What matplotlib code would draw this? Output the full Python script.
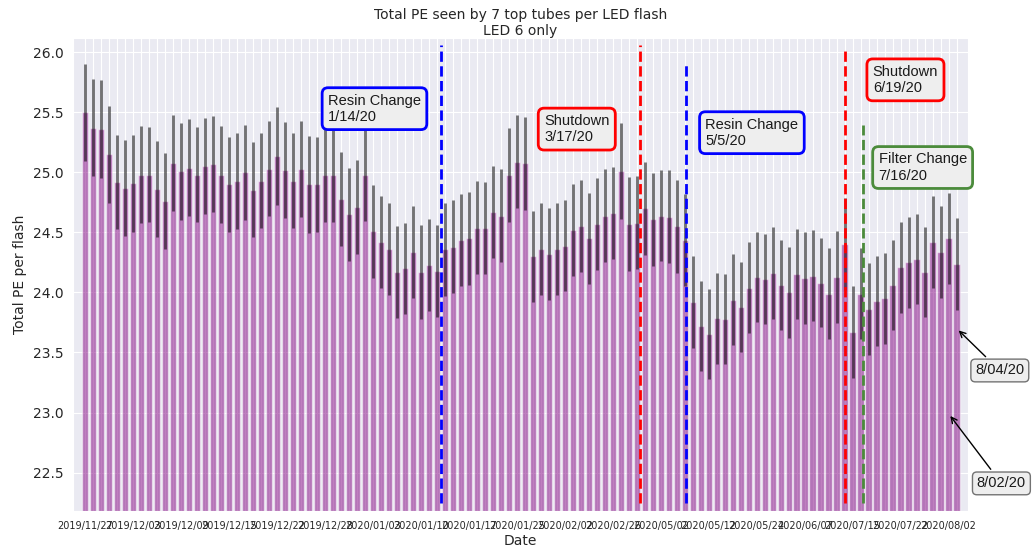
import numpy as np
import matplotlib.pyplot as plt
import seaborn as sns

# mean total PE per LED flash, one bar per run day
pe = [25.50, 25.37, 25.36, 25.15, 24.92, 24.87, 24.91, 24.98, 24.98, 24.86,
      24.76, 25.08, 25.01, 25.04, 24.98, 25.05, 25.07, 24.98, 24.90, 24.93,
      25.00, 24.855, 24.93, 25.03, 25.14, 25.02, 24.93, 25.03, 24.90, 24.90,
      24.98, 24.98, 24.775, 24.65, 24.71, 24.98, 24.51, 24.42, 24.36, 24.17,
      24.20, 24.34, 24.17, 24.23, 24.18, 24.36, 24.38, 24.44, 24.45, 24.54,
      24.54, 24.67, 24.64, 24.98, 25.09, 25.075, 24.30, 24.36, 24.32, 24.36,
      24.39, 24.52, 24.555, 24.45, 24.57, 24.64, 24.66, 25.01, 24.57, 24.58,
      24.70, 24.61, 24.64, 24.63, 24.55, 24.44, 23.92, 23.72, 23.655, 23.785,
      23.78, 23.94, 23.875, 24.04, 24.125, 24.11, 24.16, 24.06, 24.00, 24.15,
      24.12, 24.14, 24.08, 23.99, 24.13, 24.405, 23.67, 23.99, 23.86, 23.93,
      23.95, 24.06, 24.21, 24.25, 24.28, 24.17, 24.42, 24.34, 24.45, 24.24]

pe_err = [0.406, 0.403, 0.411, 0.403, 0.394, 0.400, 0.403, 0.406, 0.394, 0.400,
          0.397, 0.400, 0.403, 0.406, 0.394, 0.400, 0.403, 0.403, 0.397, 0.400,
          0.394, 0.397, 0.394, 0.394, 0.408, 0.400, 0.394, 0.400, 0.403, 0.394,
          0.394, 0.394, 0.392, 0.386, 0.392, 0.389, 0.386, 0.386, 0.383, 0.383,
          0.381, 0.383, 0.389, 0.381, 0.381, 0.386, 0.386, 0.383, 0.386, 0.389,
          0.383, 0.381, 0.389, 0.392, 0.386, 0.389, 0.378, 0.381, 0.381, 0.381,
          0.381, 0.383, 0.381, 0.381, 0.381, 0.386, 0.383, 0.400, 0.392, 0.386,
          0.386, 0.386, 0.381, 0.386, 0.386, 0.383, 0.381, 0.375, 0.375, 0.378,
          0.372, 0.378, 0.375, 0.381, 0.375, 0.375, 0.381, 0.375, 0.381, 0.375,
          0.381, 0.381, 0.372, 0.378, 0.381, 0.383, 0.383, 0.381, 0.381, 0.375,
          0.378, 0.375, 0.378, 0.378, 0.375, 0.378, 0.383, 0.383, 0.381, 0.383]

# every 6th day gets a label
tick_labels = ["2019/11/27", "2019/12/03", "2019/12/09", "2019/12/15", "2019/12/22",
               "2019/12/28", "2020/01/03", "2020/01/10", "2020/01/17", "2020/01/25",
               "2020/02/02", "2020/02/26", "2020/05/02", "2020/05/12", "2020/05/24",
               "2020/06/07", "2020/07/15", "2020/07/22", "2020/08/02"]
tick_step = 6

# detector events (bar-index position)
event_x = [44.5, 69.4, 75.2, 95.0, 97.3]
event_top = [26.06, 26.06, 25.89, 26.03, 25.39]
event_color = ["blue", "red", "blue", "red", "#4b8b3b"]
event_text = ["Resin Change\n1/14/20", "Shutdown\n3/17/20", "Resin Change\n5/5/20",
              "Shutdown\n6/19/20", "Filter Change\n7/16/20"]
event_text_pos = [(36.2, 25.53), (61.5, 25.36), (83.4, 25.33), (102.6, 25.77), (104.75, 25.04)]

# last two days pointed out
last_text = ["8/04/20", "8/02/20"]
last_xy = [(109.0, 23.70), (108.0, 22.99)]
last_text_pos = [(114.4, 23.35), (114.6, 22.41)]

sns.set_style("darkgrid")

n = len(pe)
x = np.arange(n)

fig, ax = plt.subplots(figsize=(10.34, 5.48), dpi=100)
plt.subplots_adjust(left=0.0706, right=0.936, top=0.931, bottom=0.0675)

ax.bar(x, pe, width=0.8, color="purple", alpha=0.5, yerr=pe_err,
       error_kw=dict(ecolor="black", alpha=0.55, lw=2, capsize=0))

for xe, top, c in zip(event_x, event_top, event_color):
    ax.plot([xe, xe], [22.25, top], ls="--", lw=2, color=c, clip_on=False)

for txt, (tx, ty), c in zip(event_text, event_text_pos, event_color):
    ax.text(tx, ty, txt, ha="center", va="center", multialignment="left",
            fontsize=10.5, family=["Liberation Sans", "DejaVu Sans"], color="0.1",
            bbox=dict(boxstyle="round,pad=0.4", fc="#eeeeee", ec=c, lw=2),
            clip_on=False)

for txt, xy, tp in zip(last_text, last_xy, last_text_pos):
    ax.annotate(txt, xy=xy, xytext=tp, ha="center", va="center", fontsize=10.5,
                family=["Liberation Sans", "DejaVu Sans"], color="0.1",
                bbox=dict(boxstyle="round,pad=0.3", fc="#eeeeee", ec="0.45", lw=1),
                arrowprops=dict(arrowstyle="->", color="black", lw=1),
                annotation_clip=False)

labels = [tick_labels[i // tick_step] if i % tick_step == 0 else "" for i in range(n)]
ax.set_xticks(x)
ax.set_xticklabels(labels, fontsize=7)
ax.set_yticks(np.arange(22.5, 26.01, 0.5))
ax.tick_params(axis="y", labelsize=10)
ax.set_xlim(-1.5, n + 0.4)
ax.set_ylim(22.18, 26.12)

ax.set_xlabel("Date", fontsize=10, labelpad=2)
ax.set_ylabel("Total PE per flash", fontsize=10)
ax.set_title("Total PE seen by 7 top tubes per LED flash\nLED 6 only", fontsize=10, pad=2)

plt.savefig("out.png", dpi=100)
